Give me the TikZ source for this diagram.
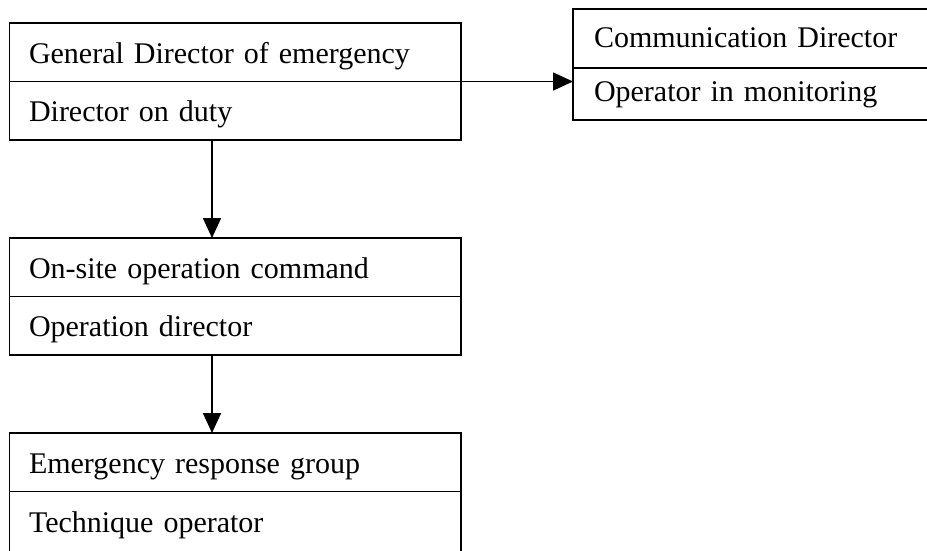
\documentclass[tikz,border=0pt]{standalone}
\usepackage{fontspec}
\setmainfont{Liberation Serif}
\usetikzlibrary{arrows.meta,positioning}

\begin{document}
\begin{tikzpicture}[x=1pt, y=-1pt, line width=1.6pt, font=\fontsize{30}{36}\selectfont,
  cell/.style={rectangle, draw, outer sep=0pt, minimum height=58.5pt, inner xsep=19.5pt, text width=412.5pt, align=left, text height=22pt, text depth=0pt},
  side cell/.style={cell, inner xsep=21pt, text width=328pt},
  link/.style={-{Triangle[length=20pt,width=18pt]}}]
  \useasboundingbox (0,0) rectangle (927,550);
  % chain of command
  \node[cell, anchor=north west] (gen) at (9.5,23) {General Director of emergency};
  \node[cell, below=0pt of gen] (duty) {Director on duty};
  \node[cell, anchor=north west] (site) at (9.5,238) {On-site operation command};
  \node[cell, below=0pt of site] (opdir) {Operation director};
  \node[cell, anchor=north west] (group) at (9.5,433) {Emergency response group};
  \node[cell, below=0pt of group, minimum height=80pt, text height=2pt] (tech) {Technique operator};
  % communication side
  \node[side cell, anchor=north west, minimum height=59pt, text height=17pt] (comm) at (573,9) {Communication Director};
  \node[side cell, below=0pt of comm, minimum height=52pt, text height=14pt] (monit) {Operator in monitoring};
  \draw[link] (gen.south east) -- (gen.south east -| comm.west);
  \draw[link] ([xshift=-23.25pt]duty.south) -- ([xshift=-23.25pt]site.north);
  \draw[link] ([xshift=-23.25pt]opdir.south) -- ([xshift=-23.25pt]group.north);
\end{tikzpicture}
\end{document}
